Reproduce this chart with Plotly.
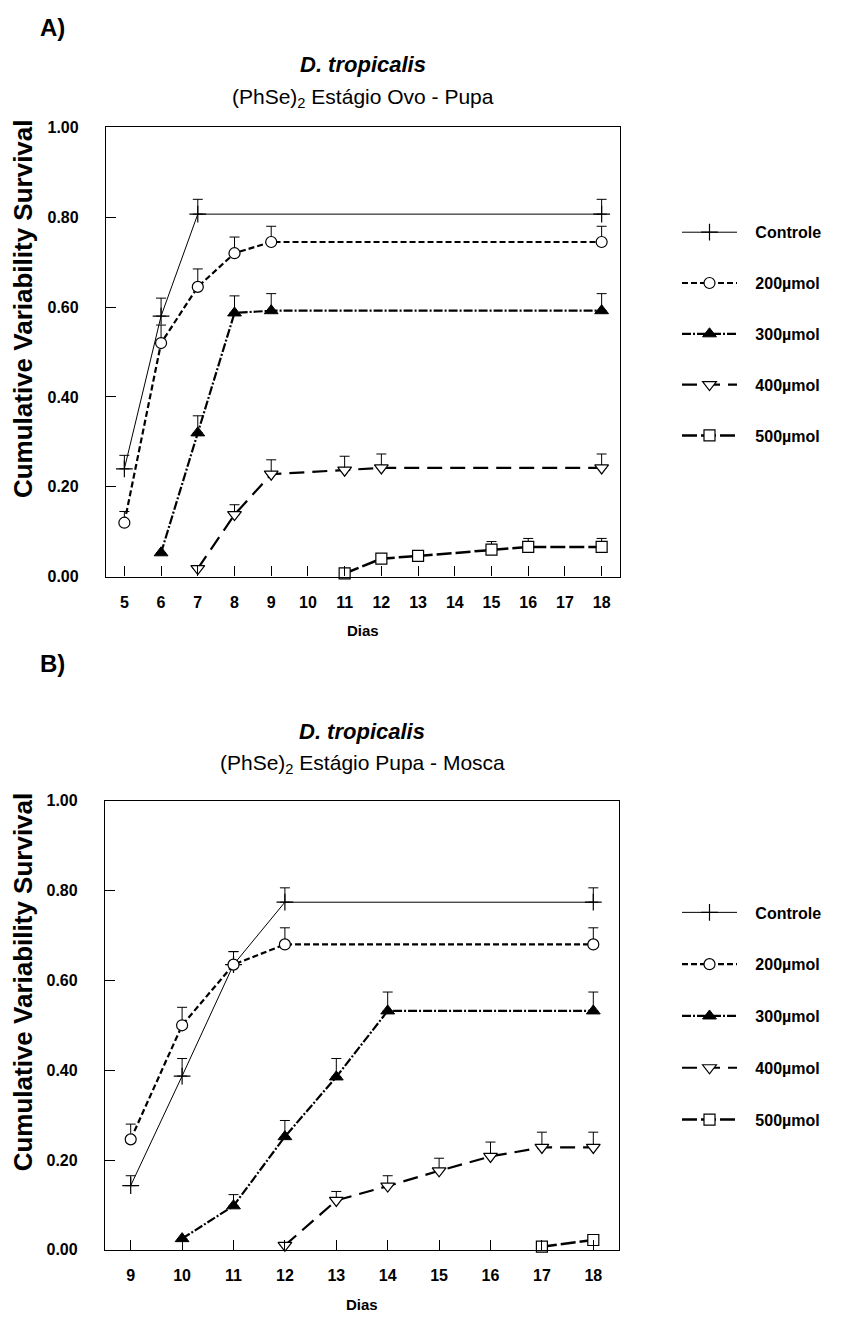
import plotly.graph_objects as go

# ---------------- data ----------------
series_names = ["Controle", "200µmol", "300µmol", "400µmol", "500µmol"]

# Panel A: Ovo - Pupa
a_ctrl_x = [5, 6, 7, 18]
a_ctrl_y = [0.24, 0.58, 0.807, 0.807]
a_ctrl_e = [0.03, 0.04, 0.033, 0.033]

a_200_x = [5, 6, 7, 8, 9, 18]
a_200_y = [0.12, 0.52, 0.645, 0.72, 0.745, 0.745]
a_200_e = [0.025, 0.04, 0.04, 0.036, 0.035, 0.035]

a_300_x = [6, 7, 8, 9, 18]
a_300_y = [0.053, 0.32, 0.587, 0.592, 0.592]
a_300_e = [0.0, 0.038, 0.038, 0.038, 0.038]

a_400_x = [7, 8, 9, 11, 12, 18]
a_400_y = [0.018, 0.138, 0.228, 0.237, 0.242, 0.242]
a_400_e = [0.0, 0.022, 0.032, 0.031, 0.031, 0.031]

a_500_x = [11, 12, 13, 15, 16, 18]
a_500_y = [0.007, 0.04, 0.046, 0.06, 0.066, 0.066]
a_500_e = [0.0, 0.0, 0.0, 0.018, 0.019, 0.019]

# Panel B: Pupa - Mosca
b_ctrl_x = [9, 10, 11, 12, 18]
b_ctrl_y = [0.143, 0.387, 0.635, 0.774, 0.774]
b_ctrl_e = [0.022, 0.039, 0.029, 0.032, 0.032]

b_200_x = [9, 10, 11, 12, 18]
b_200_y = [0.246, 0.50, 0.635, 0.68, 0.68]
b_200_e = [0.034, 0.04, 0.029, 0.037, 0.037]

b_300_x = [10, 11, 12, 13, 14, 18]
b_300_y = [0.025, 0.098, 0.252, 0.385, 0.532, 0.532]
b_300_e = [0.0, 0.025, 0.036, 0.041, 0.042, 0.042]

b_400_x = [12, 13, 14, 15, 16, 17, 18]
b_400_y = [0.01, 0.11, 0.142, 0.176, 0.208, 0.228, 0.228]
b_400_e = [0.0, 0.02, 0.023, 0.028, 0.032, 0.034, 0.034]

b_500_x = [17, 18]
b_500_y = [0.007, 0.022]
b_500_e = [0.0, 0.0]

a_ticks = list(range(5, 19))
b_ticks = list(range(9, 19))
y_ticks = [0.0, 0.2, 0.4, 0.6, 0.8, 1.0]

# ---------------- styles ----------------
styles = [
    dict(line=dict(color="black", width=1, dash="solid"),
         marker=dict(symbol="cross-thin", size=12, color="black",
                     line=dict(color="black", width=1.2))),
    dict(line=dict(color="black", width=2.2, dash="6px,3px"),
         marker=dict(symbol="circle", size=11, color="white",
                     line=dict(color="black", width=1.2))),
    dict(line=dict(color="black", width=2.2, dash="9px,2px,2px,2px"),
         marker=dict(symbol="triangle-up", size=12, color="black",
                     line=dict(color="black", width=1))),
    dict(line=dict(color="black", width=2.2, dash="15px,8px"),
         marker=dict(symbol="triangle-down", size=12, color="white",
                     line=dict(color="black", width=1.2))),
    dict(line=dict(color="black", width=2.5, dash="15px,4px"),
         marker=dict(symbol="square", size=11, color="white",
                     line=dict(color="black", width=1.2))),
]

fig = go.Figure()

panels = [
    ("x", "y", "legend", "A",
     [(a_ctrl_x, a_ctrl_y, a_ctrl_e), (a_200_x, a_200_y, a_200_e),
      (a_300_x, a_300_y, a_300_e), (a_400_x, a_400_y, a_400_e),
      (a_500_x, a_500_y, a_500_e)]),
    ("x2", "y2", "legend2", "B",
     [(b_ctrl_x, b_ctrl_y, b_ctrl_e), (b_200_x, b_200_y, b_200_e),
      (b_300_x, b_300_y, b_300_e), (b_400_x, b_400_y, b_400_e),
      (b_500_x, b_500_y, b_500_e)]),
]

NB = "\u00a0\u00a0\u00a0"
for xa, ya, lg, tag, data in panels:
    for i, (xs, ys, es) in enumerate(data):
        st = styles[i]
        fig.add_trace(go.Scatter(
            x=xs, y=ys, mode="lines+markers", name=NB + series_names[i],
            xaxis=xa, yaxis=ya, legend=lg, legendgroup=f"{tag}{i}",
            line=st["line"], marker=st["marker"],
            error_y=dict(type="data", array=es, arrayminus=[0] * len(es),
                         symmetric=False, color="black", thickness=1, width=5),
            cliponaxis=False,
        ))

FONT = "Arial, Liberation Sans, sans-serif"
W, H = 853, 1325

def px(x):
    return x / W

def py(y):
    return 1 - y / H

axis_common = dict(
    showline=True, linecolor="black", linewidth=1.3, mirror=True,
    ticks="inside", ticklen=10, tickwidth=1, tickcolor="black",
    showgrid=False, zeroline=False,
    tickfont=dict(family=FONT, size=16, color="black", weight="bold"),
)

legend_common = dict(
    xanchor="left", yanchor="top",
    font=dict(family=FONT, size=16, color="black", weight="bold"),
    itemwidth=55, bgcolor="rgba(0,0,0,0)",
)

fig.update_layout(
    width=W, height=H,
    margin=dict(l=0, r=0, t=0, b=0),
    paper_bgcolor="white", plot_bgcolor="white",
    font=dict(family=FONT, color="black"),
    xaxis=dict(domain=[px(106), px(620)], anchor="y", range=[4.5, 18.5],
               tickvals=a_ticks, ticklabelstandoff=11, **axis_common),
    yaxis=dict(domain=[py(576), py(121)], anchor="x", range=[0, 1],
               tickvals=y_ticks, tickformat=".2f", ticklabelstandoff=23,
               **axis_common),
    xaxis2=dict(domain=[px(105), px(619)], anchor="y2", range=[8.5, 18.5],
                tickvals=b_ticks, ticklabelstandoff=11, **axis_common),
    yaxis2=dict(domain=[py(1258), py(803)], anchor="x2", range=[0, 1],
                tickvals=y_ticks, tickformat=".2f", ticklabelstandoff=23,
                **axis_common),
    legend=dict(x=px(677), y=py(210), tracegroupgap=27, **legend_common),
    legend2=dict(x=px(677), y=py(899), tracegroupgap=28, **legend_common),
    showlegend=True,
)

annotations = [
    dict(text="<b>A)</b>", x=38, y=20, size=24, anchor="left"),
    dict(text="<b><i>D. tropicalis</i></b>", x=363, y=57, size=22),
    dict(text="(PhSe)<sub>2</sub> Estágio Ovo - Pupa", x=363, y=91, size=21),
    dict(text="<b>Dias</b>", x=363, y=631, size=15),
    dict(text="<b>B)</b>", x=38, y=664, size=24, anchor="left"),
    dict(text="<b><i>D. tropicalis</i></b>", x=362, y=733, size=22),
    dict(text="(PhSe)<sub>2</sub> Estágio Pupa - Mosca", x=362, y=766, size=21),
    dict(text="<b>Dias</b>", x=362, y=1313, size=15),
]
for a in annotations:
    fig.add_annotation(
        text=a["text"], x=px(a["x"]), y=py(a["y"]), xref="paper", yref="paper",
        xanchor=a.get("anchor", "center"), yanchor="middle", showarrow=False,
        font=dict(family=FONT, size=a["size"], color="black"),
    )

# rotated y-axis titles
for yc in (305, 987):
    fig.add_annotation(
        text="<b>Cumulative Variability Survival</b>", textangle=-90,
        x=px(23), y=py(yc), xref="paper", yref="paper",
        xanchor="center", yanchor="middle", showarrow=False,
        font=dict(family=FONT, size=26, color="black"),
    )

fig.write_html("out.html")
